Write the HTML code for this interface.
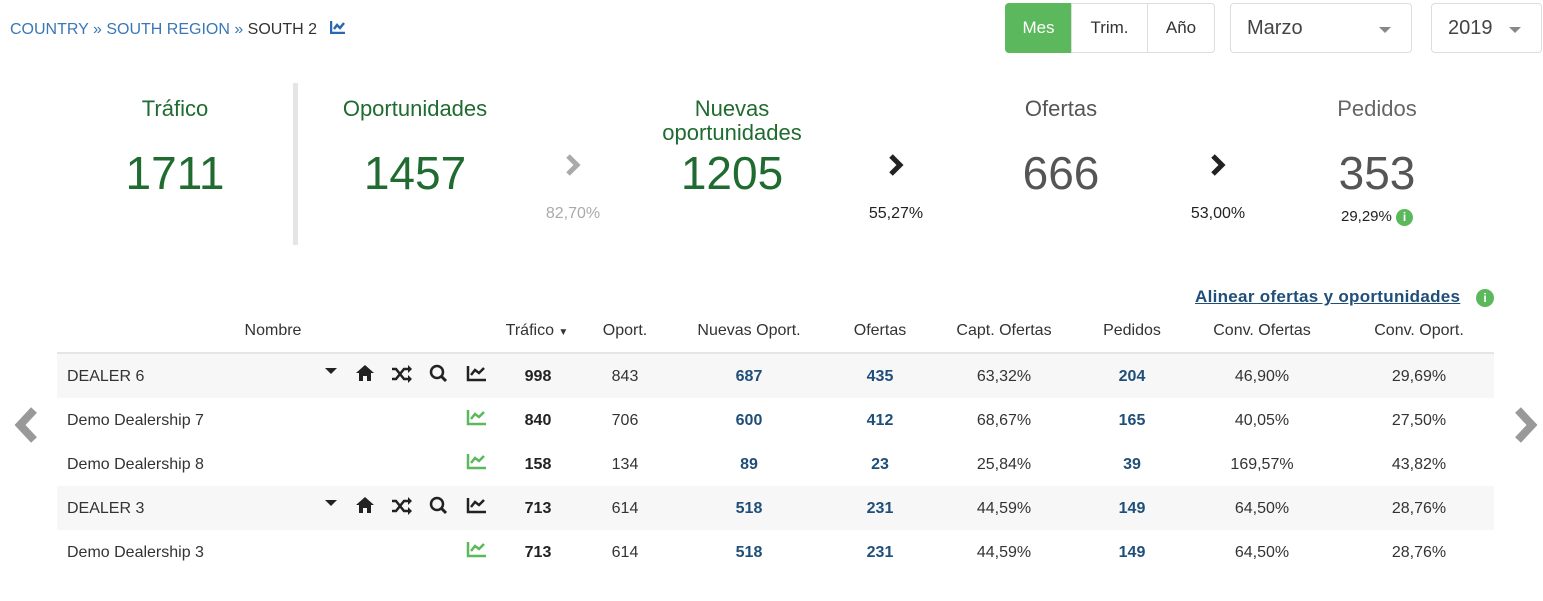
<!DOCTYPE html>
<html><head><meta charset="utf-8"><style>
body{margin:0;width:1543px;height:601px;background:#fff;font-family:"Liberation Sans",sans-serif;position:relative;overflow:hidden;color:#333}
.a{position:absolute;white-space:nowrap}
.c{position:absolute;white-space:nowrap;transform:translateX(-50%)}
.g{color:#1f6b30}
.lab{font-size:22px}
.big{font-size:46px}
.t{font-size:16px;top:368px}
.b{color:#1f4e79;font-weight:bold}
.bk{font-weight:bold;color:#222}
.btn{position:absolute;top:3px;height:50px;border:1px solid #ddd;box-sizing:border-box;font-size:17px;line-height:48px;text-align:center}
.sel{position:absolute;top:3px;height:50px;border:1px solid #ddd;border-radius:4px;box-sizing:border-box;font-size:20px;line-height:48px;padding-left:16px;color:#444}
.car{position:absolute;top:27px;width:0;height:0;border-left:6px solid transparent;border-right:6px solid transparent;border-top:6px solid #888}
</style></head><body>
<div class="a" style="left:10px;top:21px;font-size:16px;color:#3a78b5">COUNTRY » SOUTH REGION » <span style="color:#333">SOUTH 2</span></div>
<svg class="a" style="left:330px;top:20px" width="16" height="14"><path d="M1 1V13H15" stroke="#2a68b0" stroke-width="2.5" fill="none"/><path d="M4 9L7 5L10 8L14 3" stroke="#2a68b0" stroke-width="2.5" fill="none"/></svg>

<div class="btn" style="left:1005px;width:67px;background:#5cb85c;color:#fff;border-color:#5cb85c;border-radius:4px 0 0 4px">Mes</div>
<div class="btn" style="left:1071px;width:77px;color:#333">Trim.</div>
<div class="btn" style="left:1147px;width:68px;color:#333;border-radius:0 4px 4px 0">Año</div>
<div class="sel" style="left:1230px;width:182px">Marzo</div><div class="car" style="left:1379px"></div>
<div class="sel" style="left:1431px;width:111px">2019</div><div class="car" style="left:1509px"></div>

<div class="c g lab" style="left:175px;top:96px">Tráfico</div>
<div class="c g big" style="left:175px;top:146px">1711</div>
<div class="a" style="left:293px;top:83px;width:5px;height:162px;background:#e5e5e5"></div>
<div class="c g lab" style="left:415px;top:96px">Oportunidades</div>
<div class="c g big" style="left:415px;top:146px">1457</div>
<svg class="a" style="left:564px;top:153px" width="18" height="24"><path d="M4 3L13 12L4 21" stroke="#aaa" stroke-width="5" fill="none"/></svg>
<div class="c" style="left:573px;top:205px;font-size:16px;color:#aaa">82,70%</div>
<div class="c g lab" style="left:732px;top:97px;text-align:center;line-height:24px">Nuevas<br>oportunidades</div>
<div class="c g big" style="left:732px;top:146px">1205</div>
<svg class="a" style="left:887px;top:153px" width="18" height="24"><path d="M4 3L13 12L4 21" stroke="#222" stroke-width="5" fill="none"/></svg>
<div class="c" style="left:896px;top:205px;font-size:16px;color:#222">55,27%</div>
<div class="c lab" style="left:1061px;top:96px;color:#555">Ofertas</div>
<div class="c big" style="left:1061px;top:146px;color:#555">666</div>
<svg class="a" style="left:1209px;top:153px" width="18" height="24"><path d="M4 3L13 12L4 21" stroke="#222" stroke-width="5" fill="none"/></svg>
<div class="c" style="left:1218px;top:205px;font-size:16px;color:#222">53,00%</div>
<div class="c lab" style="left:1377px;top:96px;color:#666">Pedidos</div>
<div class="c big" style="left:1377px;top:146px;color:#555">353</div>
<div class="c" style="left:1377px;top:208px;font-size:15px;color:#222">29,29% <span style="display:inline-block;width:17px;height:17px;border-radius:50%;background:#5cb85c;color:#fff;font-size:12px;line-height:17px;text-align:center;font-weight:bold;vertical-align:middle">i</span></div>

<div class="a" style="left:1195px;top:287px;font-size:17px;color:#1f4e79;text-decoration:underline;font-weight:bold;letter-spacing:0.3px">Alinear ofertas y oportunidades</div>
<div class="a" style="left:1476px;top:289px;width:18px;height:18px;border-radius:50%;background:#5cb85c;color:#fff;font-size:12px;line-height:18px;text-align:center;font-weight:bold">i</div>

<div class="a" style="left:57px;top:352px;width:1437px;height:2px;background:#e5e5e5"></div>
<div class="a" style="left:57px;top:354px;width:1437px;height:44px;background:#f7f7f7"></div>
<div class="a" style="left:57px;top:486px;width:1437px;height:44px;background:#f7f7f7"></div>

<div style="font-size:16px;color:#333">
<div class="c" style="left:273px;top:322px">Nombre</div>
<div class="c" style="left:537px;top:322px">Tráfico <span style="font-size:10px">▼</span></div>
<div class="c" style="left:625px;top:322px">Oport.</div>
<div class="c" style="left:749px;top:322px">Nuevas Oport.</div>
<div class="c" style="left:880px;top:322px">Ofertas</div>
<div class="c" style="left:1004px;top:322px">Capt. Ofertas</div>
<div class="c" style="left:1132px;top:322px">Pedidos</div>
<div class="c" style="left:1262px;top:322px">Conv. Ofertas</div>
<div class="c" style="left:1419px;top:322px">Conv. Oport.</div>
</div>

<svg class="a" style="left:10px;top:405px" width="30" height="40"><path d="M24 5L10 20L24 35" stroke="#999" stroke-width="8" fill="none"/></svg>
<svg class="a" style="left:1512px;top:405px" width="30" height="40"><path d="M6 5L20 20L6 35" stroke="#999" stroke-width="8" fill="none"/></svg>

<div class="a t" style="left:67px">DEALER 6</div>
<div class="a t" style="left:67px;top:412px">Demo Dealership 7</div>
<div class="a t" style="left:67px;top:456px">Demo Dealership 8</div>
<div class="a t" style="left:67px;top:500px">DEALER 3</div>
<div class="a t" style="left:67px;top:544px">Demo Dealership 3</div>

<svg class="a" style="left:320px;top:362px" width="175" height="200">
<g id="ic" fill="#222">
<path d="M5 6h12l-6 6z"/>
<path d="M36 11l9-8 9 8h-3v8h-4v-5h-4v5h-4v-8z"/>
<path d="M72 7h4l8 10h4M72 17h4l8-10h4" stroke="#222" stroke-width="2.5" fill="none"/>
<path d="M88 3l4 4-4 4zM88 13l4 4-4 4z"/>
<circle cx="117" cy="10" r="6" stroke="#222" stroke-width="2.5" fill="none"/><path d="M121 14l5 5" stroke="#222" stroke-width="3"/>
<path d="M148 4v14h18" stroke="#222" stroke-width="2.5" fill="none"/><path d="M151 13l4-5 4 3 5-5" stroke="#222" stroke-width="2.5" fill="none"/>
</g>
<use href="#ic" y="132"/>
<g id="gr" stroke="#5cb85c" stroke-width="2.5" fill="none"><path d="M148 48v14h18"/><path d="M151 57l4-5 4 3 5-5"/></g>
<use href="#gr" y="44"/><use href="#gr" y="132"/>
</svg>

<div style="font-size:16px">
<div class="c t bk" style="left:538px">998</div><div class="c t" style="left:625px">843</div><div class="c t b" style="left:749px">687</div><div class="c t b" style="left:880px">435</div><div class="c t" style="left:1004px">63,32%</div><div class="c t b" style="left:1132px">204</div><div class="c t" style="left:1262px">46,90%</div><div class="c t" style="left:1419px">29,69%</div>
<div class="c t bk" style="left:538px;top:412px">840</div><div class="c t" style="left:625px;top:412px">706</div><div class="c t b" style="left:749px;top:412px">600</div><div class="c t b" style="left:880px;top:412px">412</div><div class="c t" style="left:1004px;top:412px">68,67%</div><div class="c t b" style="left:1132px;top:412px">165</div><div class="c t" style="left:1262px;top:412px">40,05%</div><div class="c t" style="left:1419px;top:412px">27,50%</div>
<div class="c t bk" style="left:538px;top:456px">158</div><div class="c t" style="left:625px;top:456px">134</div><div class="c t b" style="left:749px;top:456px">89</div><div class="c t b" style="left:880px;top:456px">23</div><div class="c t" style="left:1004px;top:456px">25,84%</div><div class="c t b" style="left:1132px;top:456px">39</div><div class="c t" style="left:1262px;top:456px">169,57%</div><div class="c t" style="left:1419px;top:456px">43,82%</div>
<div class="c t bk" style="left:538px;top:500px">713</div><div class="c t" style="left:625px;top:500px">614</div><div class="c t b" style="left:749px;top:500px">518</div><div class="c t b" style="left:880px;top:500px">231</div><div class="c t" style="left:1004px;top:500px">44,59%</div><div class="c t b" style="left:1132px;top:500px">149</div><div class="c t" style="left:1262px;top:500px">64,50%</div><div class="c t" style="left:1419px;top:500px">28,76%</div>
<div class="c t bk" style="left:538px;top:544px">713</div><div class="c t" style="left:625px;top:544px">614</div><div class="c t b" style="left:749px;top:544px">518</div><div class="c t b" style="left:880px;top:544px">231</div><div class="c t" style="left:1004px;top:544px">44,59%</div><div class="c t b" style="left:1132px;top:544px">149</div><div class="c t" style="left:1262px;top:544px">64,50%</div><div class="c t" style="left:1419px;top:544px">28,76%</div>
</div>
</body></html>
